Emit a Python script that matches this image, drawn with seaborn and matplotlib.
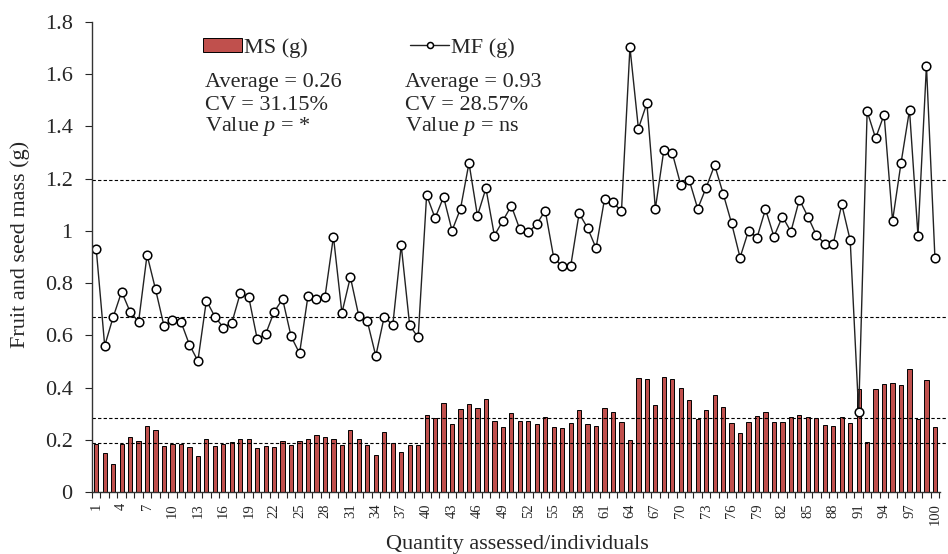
import numpy as np
import pandas as pd
import matplotlib
matplotlib.use("Agg")
import matplotlib.pyplot as plt
import seaborn as sns

individuals = list(range(1, 101))
ms_g = [0.183, 0.148, 0.106, 0.184, 0.209, 0.197, 0.252, 0.238, 0.176, 0.183,
        0.185, 0.171, 0.138, 0.204, 0.176, 0.183, 0.190, 0.204, 0.204, 0.167,
        0.176, 0.171, 0.195, 0.181, 0.195, 0.204, 0.218, 0.209, 0.204, 0.181,
        0.238, 0.204, 0.181, 0.143, 0.229, 0.189, 0.153, 0.181, 0.181, 0.294,
        0.285, 0.341, 0.262, 0.318, 0.337, 0.322, 0.355, 0.271, 0.250, 0.301,
        0.273, 0.273, 0.259, 0.287, 0.249, 0.244, 0.263, 0.315, 0.259, 0.254,
        0.321, 0.307, 0.268, 0.198, 0.437, 0.433, 0.335, 0.442, 0.433, 0.400,
        0.354, 0.278, 0.315, 0.373, 0.324, 0.263, 0.225, 0.268, 0.291, 0.307,
        0.268, 0.268, 0.287, 0.295, 0.286, 0.282, 0.258, 0.254, 0.286, 0.263,
        0.395, 0.193, 0.395, 0.415, 0.418, 0.409, 0.470, 0.281, 0.428, 0.249]
mf_g = [0.930, 0.560, 0.670, 0.767, 0.690, 0.652, 0.908, 0.776, 0.636, 0.659,
        0.652, 0.564, 0.502, 0.733, 0.672, 0.630, 0.647, 0.761, 0.747, 0.586,
        0.605, 0.690, 0.739, 0.596, 0.531, 0.752, 0.738, 0.747, 0.978, 0.686,
        0.823, 0.673, 0.654, 0.521, 0.672, 0.638, 0.945, 0.638, 0.592, 1.137,
        1.049, 1.130, 1.001, 1.085, 1.260, 1.058, 1.163, 0.982, 1.039, 1.096,
        1.006, 0.994, 1.026, 1.078, 0.898, 0.864, 0.864, 1.067, 1.011, 0.934,
        1.122, 1.109, 1.076, 1.703, 1.392, 1.489, 1.085, 1.309, 1.298, 1.176,
        1.194, 1.085, 1.166, 1.252, 1.143, 1.029, 0.898, 1.001, 0.974, 1.083,
        0.978, 1.055, 0.997, 1.120, 1.055, 0.984, 0.951, 0.951, 1.102, 0.964,
        0.305, 1.458, 1.355, 1.445, 1.039, 1.260, 1.463, 0.982, 1.633, 0.898]
ref_lines = [1.195, 0.670, 0.283, 0.186]
stats_ms = ["Average = 0.26", "CV = 31.15%", r"Value $p$ = *"]
stats_mf = ["Average = 0.93", "CV = 28.57%", r"Value $p$ = ns"]
xtick_labels = list(range(1, 101, 3))
yticks = [0, 0.2, 0.4, 0.6, 0.8, 1.0, 1.2, 1.4, 1.6, 1.8]
ytick_labels = ["0", "0.2", "0.4", "0.6", "0.8", "1", "1.2", "1.4", "1.6", "1.8"]

df = pd.DataFrame({"ind": individuals, "MS": ms_g, "MF": mf_g})

sns.set_style("ticks")
plt.rcParams["font.family"] = ["Liberation Serif", "DejaVu Serif"]
plt.rcParams["mathtext.fontset"] = "custom"
plt.rcParams["mathtext.rm"] = "Liberation Serif"
plt.rcParams["mathtext.it"] = "Liberation Serif:italic"

W, H = 948, 554
fig = plt.figure(figsize=(W / 100, H / 100), dpi=100)
ax = fig.add_axes([92 / W, 1 - 492 / H, (940 - 92) / W, (492 - 22) / H])

sns.barplot(data=df, x="ind", y="MS", native_scale=True, color="#C0504D",
            saturation=1, width=0.5, edgecolor="black", linewidth=0.7, ax=ax)
bar_handle = ax.patches[0]
sns.lineplot(data=df, x="ind", y="MF", color="#222222", linewidth=1.0,
             marker="o", markersize=6.2, markerfacecolor="white",
             markeredgecolor="black", markeredgewidth=1.1, ax=ax)
line_handle = ax.lines[-1]

for v in ref_lines:
    ax.axhline(v, xmin=0, xmax=1.01, color="black", linestyle=(0, (3, 2)),
               linewidth=0.8, clip_on=False, zorder=1)

ax.set_xlim(0.73, 100.6)
ax.set_ylim(0, 1.8)
ax.set_yticks(yticks)
ax.set_yticklabels(ytick_labels, fontsize=16)
ax.set_xticks(xtick_labels)
ax.set_xticklabels([str(t) for t in xtick_labels], rotation=90, fontsize=10.5)
ax.set_xticks(np.arange(0.5, 101, 1.0), minor=True)
ax.tick_params(axis="x", which="major", length=0, pad=8)
ax.tick_params(axis="x", which="minor", length=4, width=0.8, direction="out")
ax.tick_params(axis="y", length=5, width=0.8, pad=9)
ax.set_xlabel("")
ax.set_ylabel("")
sns.despine(ax=ax)
for s in ["left", "bottom"]:
    ax.spines[s].set_linewidth(1.0)
    ax.spines[s].set_color("#333333")

leg = ax.legend(handles=[bar_handle, line_handle], labels=["MS (g)", "MF (g)"],
                ncol=2, frameon=False, loc="upper left",
                bbox_to_anchor=(203 / W, 1 - 38 / H), bbox_transform=fig.transFigure,
                handlelength=1.75, handleheight=0.6, handletextpad=0.1,
                columnspacing=4.6, borderpad=0, borderaxespad=0, fontsize=16,
                markerscale=0.7)
for i, (a, b) in enumerate(zip(stats_ms, stats_mf)):
    yy = 1 - (83 + 22 * i) / H
    fig.text(205 / W, yy, a, fontsize=16, va="center", ha="left")
    fig.text(405 / W, yy, b, fontsize=16, va="center", ha="left")

fig.text(20 / W, 1 - 244 / H, "Fruit and seed mass (g)", rotation=90,
         fontsize=16, va="center", ha="center")
fig.text(517 / W, 1 - 544 / H, "Quantity assessed/individuals",
         fontsize=16, va="center", ha="center")

fig.savefig("out.png", dpi=100)
